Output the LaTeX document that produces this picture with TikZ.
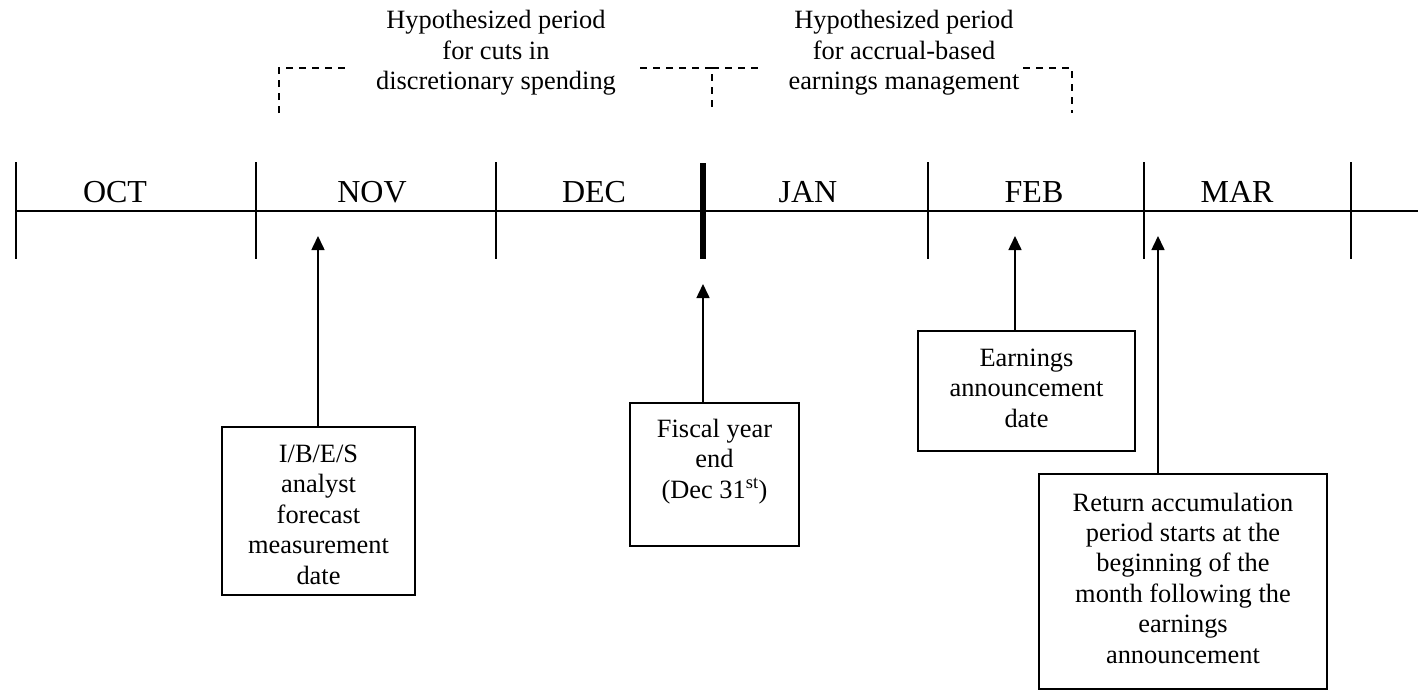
\documentclass[tikz,border=0pt]{standalone}
\usepackage{fontspec}
\setmainfont{Liberation Serif}
\usetikzlibrary{arrows.meta}
\begin{document}
\begin{tikzpicture}[x=1pt,y=-1pt,
  tick/.style={line width=1.3pt},
  month/.style={font=\fontsize{32}{36}\selectfont, anchor=base, inner sep=0pt},
  lbl/.style={font=\fontsize{26.4}{30.4}\selectfont, align=center, anchor=base, inner sep=0pt},
  bx/.style={draw, line width=2pt, inner sep=0pt},
  arr/.style={line width=1.6pt, -{Triangle[length=14pt,width=13pt]}},
  br/.style={line width=1.5pt, dash pattern=on 7pt off 6pt}]
\useasboundingbox (0,0) rectangle (1418,691);

% timeline
\coordinate (L) at (16,211);
\coordinate (R) at (1418,211);
\draw[line width=2pt] (L) -- (R);
\foreach \x in {16,256,496,928,1144,1351} \draw[tick] (\x,162) -- (\x,259);
\draw[line width=6pt] (703,163) -- (703,259);

% months
\node[month] (oct) at (115,202) {OCT};
\node[month] (nov) at (372,202) {NOV};
\node[month] (dec) at (594,202) {DEC};
\node[month] (jan) at (808,202) {JAN};
\node[month] (feb) at (1034,202) {FEB};
\node[month] (mar) at (1237,202) {MAR};

% top labels (base anchor = baseline of last line)
\node[lbl] (h1) at (496,89.5) {Hypothesized period\\for cuts in\\discretionary spending};
\node[lbl] (h2) at (904,89.5) {Hypothesized period\\for accrual-based\\earnings management};

% dashed brackets
\draw[br] (279,113) -- (279,68) -- (351,68);
\draw[br] (640,68) -- (712,68) -- (712,113);
\draw[br] (712,68) -- (761,68);
\draw[br] (1023,68) -- (1072,68) -- (1072,113);

% boxes
\node[bx, minimum width=193pt, minimum height=168pt] (ibes) at (318.5,511) {};
\node[bx, minimum width=169pt, minimum height=143pt] (fiscal) at (714.5,474.5) {};
\node[bx, minimum width=217pt, minimum height=120pt] (earn) at (1026.5,391) {};
\node[bx, minimum width=288pt, minimum height=215pt] (ret) at (1183,581.5) {};

\node[lbl] (ibest) at (318.5,584) {I/B/E/S\\analyst\\forecast\\measurement\\date};
\node[lbl] (fiscalt) at (714.5,498) {Fiscal year\\end\\(Dec 31\textsuperscript{st})};
\node[lbl] (earnt) at (1026.5,427) {Earnings\\announcement\\date};
\node[lbl] (rett) at (1183,663) {Return accumulation\\period starts at the\\beginning of the\\month following the\\earnings\\announcement};

% arrows
\coordinate (a1) at (318,236);
\coordinate (a2) at (703,284);
\coordinate (a3) at (1015,236);
\coordinate (a4) at (1158,236);
\draw[arr] (a1 |- ibes.north) -- (a1);
\draw[arr] (a2 |- fiscal.north) -- (a2);
\draw[arr] (a3 |- earn.north) -- (a3);
\draw[arr] (a4 |- ret.north) -- (a4);
\end{tikzpicture}
\end{document}
